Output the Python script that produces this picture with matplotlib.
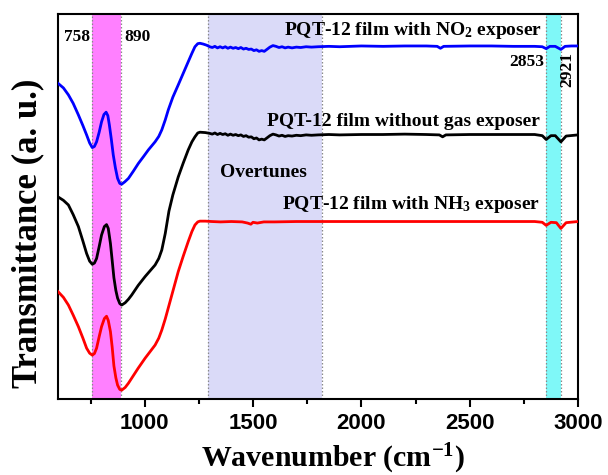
import matplotlib
matplotlib.use("Agg")
import matplotlib.pyplot as plt
import numpy as np
from matplotlib.ticker import MultipleLocator

# FTIR spectra of PQT-12 films, (wavenumber cm^-1, transmittance a.u.), stacked offsets
NO2_FILM = [
    (600, 82.0), (625, 80.8), (648, 79.0), (670, 76.8), (694, 73.8), (715, 71.0),
    (732, 68.6), (746, 66.5), (758, 65.3), (768, 65.6), (778, 66.8), (790, 69.3),
    (801, 72.0), (812, 73.9), (822, 74.5), (830, 73.6), (837, 71.2), (846, 67.5),
    (855, 63.4), (865, 60.0), (875, 57.3), (885, 56.0), (894, 55.8), (908, 56.4),
    (925, 57.3), (948, 59.2), (971, 61.2), (995, 63.0), (1017, 64.7), (1048, 66.8),
    (1065, 68.2), (1079, 69.9), (1095, 72.5), (1109, 75.1), (1130, 78.4), (1155, 81.6),
    (1178, 84.6), (1201, 87.6), (1218, 89.8), (1232, 91.5), (1245, 92.3), (1255, 92.4),
    (1270, 92.2), (1286, 91.9), (1300, 91.5), (1312, 91.3), (1324, 91.6), (1336, 91.2),
    (1348, 91.5), (1360, 91.2), (1372, 91.5), (1384, 91.1), (1396, 91.4), (1408, 91.1),
    (1420, 91.3), (1432, 91.0), (1444, 91.3), (1456, 90.9), (1468, 91.1), (1480, 90.8),
    (1492, 90.9), (1504, 90.5), (1516, 90.7), (1528, 90.3), (1540, 90.5), (1552, 90.3),
    (1564, 90.8), (1578, 91.4), (1592, 91.8), (1606, 91.6), (1620, 91.3), (1634, 91.5),
    (1648, 91.2), (1662, 91.4), (1680, 91.2), (1700, 91.4), (1720, 91.3), (1745, 91.5),
    (1770, 91.4), (1800, 91.5), (1850, 91.6), (1900, 91.5), (2000, 91.7), (2100, 91.6),
    (2200, 91.7), (2300, 91.7), (2350, 91.6), (2365, 91.1), (2380, 91.6), (2500, 91.7),
    (2600, 91.7), (2700, 91.6), (2800, 91.6), (2835, 91.5), (2853, 91.0), (2870, 91.6),
    (2895, 91.6), (2921, 90.8), (2940, 91.6), (2970, 91.7), (3000, 91.7),
]

BARE_FILM = [
    (600, 52.5), (625, 51.6), (648, 50.4), (670, 47.9), (694, 44.8), (715, 41.0),
    (732, 37.8), (746, 35.8), (758, 35.0), (768, 35.3), (778, 36.5), (790, 39.6),
    (801, 42.6), (814, 44.8), (824, 45.3), (832, 44.3), (842, 40.4), (850, 36.0),
    (858, 31.5), (867, 28.2), (875, 26.2), (885, 24.8), (894, 24.4), (910, 25.0),
    (925, 25.9), (940, 27.0), (970, 29.5), (1002, 31.8), (1025, 33.3), (1048, 34.8),
    (1065, 36.5), (1079, 38.7), (1095, 43.0), (1112, 48.8), (1130, 53.0), (1155, 57.7),
    (1178, 61.3), (1201, 64.7), (1218, 66.8), (1232, 68.1), (1245, 69.1), (1255, 69.3),
    (1280, 69.2), (1300, 69.0), (1312, 68.8), (1324, 69.1), (1336, 68.7), (1348, 69.0),
    (1360, 68.7), (1372, 68.9), (1384, 68.5), (1396, 68.8), (1408, 68.5), (1420, 68.7),
    (1432, 68.4), (1444, 68.6), (1456, 68.2), (1468, 68.4), (1480, 68.0), (1492, 68.1),
    (1504, 67.6), (1516, 67.8), (1528, 67.3), (1540, 67.5), (1552, 67.3), (1564, 67.8),
    (1578, 68.4), (1592, 68.8), (1606, 68.6), (1620, 68.3), (1634, 68.5), (1648, 68.2),
    (1662, 68.4), (1680, 68.3), (1700, 68.5), (1720, 68.4), (1745, 68.6), (1770, 68.5),
    (1800, 68.6), (1850, 68.7), (1900, 68.6), (2000, 68.7), (2100, 68.7), (2200, 68.8),
    (2300, 68.7), (2360, 68.6), (2375, 68.1), (2390, 68.6), (2500, 68.7), (2700, 68.7),
    (2800, 68.7), (2835, 68.4), (2853, 67.4), (2875, 68.4), (2895, 68.4), (2921, 66.8),
    (2945, 68.3), (3000, 68.6),
]

NH3_FILM = [
    (600, 27.9), (625, 26.4), (648, 24.4), (670, 21.8), (694, 18.8), (715, 15.8),
    (732, 13.2), (746, 11.9), (758, 11.4), (768, 11.8), (778, 13.2), (790, 16.2),
    (801, 18.8), (814, 20.9), (824, 21.5), (832, 20.4), (842, 17.5), (850, 13.5),
    (858, 8.6), (867, 5.5), (875, 3.6), (885, 2.5), (894, 2.3), (910, 3.0),
    (925, 4.1), (940, 5.4), (970, 8.0), (1002, 10.6), (1025, 12.3), (1048, 14.0),
    (1065, 15.8), (1079, 17.9), (1095, 20.8), (1117, 25.3), (1135, 29.0), (1155, 33.1),
    (1178, 37.1), (1201, 40.9), (1218, 43.5), (1232, 45.2), (1245, 46.0), (1255, 46.2),
    (1280, 46.2), (1309, 46.1), (1350, 46.0), (1400, 46.1), (1450, 46.0), (1475, 45.7),
    (1490, 45.4), (1500, 45.9), (1520, 45.7), (1550, 46.0), (1600, 46.0), (1700, 46.1),
    (1800, 46.1), (2000, 46.1), (2200, 46.1), (2400, 46.1), (2600, 46.1), (2800, 46.1),
    (2835, 45.9), (2853, 45.1), (2875, 45.9), (2900, 45.8), (2921, 44.3), (2945, 45.8),
    (3000, 46.1),
]

# highlighted bands (cm^-1)
CH_OOP_BAND = (758, 890)
OVERTONE_BAND = (1290, 1820)
CH_STRETCH_BAND = (2853, 2921)

SERIES = [
    (NO2_FILM, "#0000ff"),
    (BARE_FILM, "#000000"),
    (NH3_FILM, "#ff0000"),
]

plt.rcParams["font.family"] = ["Liberation Serif", "DejaVu Serif"]
plt.rcParams["font.weight"] = "bold"
plt.rcParams["mathtext.fontset"] = "custom"
plt.rcParams["mathtext.rm"] = "Liberation Serif:bold"
plt.rcParams["mathtext.it"] = "Liberation Serif:bold"
plt.rcParams["mathtext.bf"] = "Liberation Serif:bold"

fig = plt.figure(figsize=(6.08, 4.75), dpi=100)
ax = fig.add_axes([0.0954, 0.16, 0.8553, 0.8105])

for lo, hi, col in [(*CH_OOP_BAND, "#ff80ff"), (*OVERTONE_BAND, "#dadaf8"),
                    (*CH_STRETCH_BAND, "#7ff8f8")]:
    ax.axvspan(lo, hi, color=col, lw=0, zorder=0)
    for edge in (lo, hi):
        ax.axvline(edge, color="#8a8a8a", ls=(0, (1.2, 1.6)), lw=0.9, zorder=1)

for data, col in SERIES:
    wn, tr = np.array(data).T
    ax.plot(wn, tr, color=col, lw=2.0, zorder=3)

ax.set_xlim(600, 3000)
ax.set_ylim(0, 100)
ax.xaxis.set_major_locator(MultipleLocator(500))
ax.xaxis.set_minor_locator(MultipleLocator(250))
ax.set_yticks([])
ax.tick_params(axis="x", which="major", direction="out", length=6, width=1.5, pad=4)
ax.tick_params(axis="x", which="minor", direction="out", length=3.5, width=1.5)
for lab in ax.get_xticklabels():
    lab.set_fontfamily("Liberation Sans")
    lab.set_fontweight("bold")
    lab.set_fontsize(16)
for sp in ax.spines.values():
    sp.set_linewidth(1.5)

ann = dict(fontsize=14, fontweight="bold", zorder=4)
ax.text(2832, 94.5, r"PQT-12 film with NO$_2$ exposer", ha="right", va="baseline", **ann)
ax.text(2824, 70.9, "PQT-12 film without gas exposer", ha="right", va="baseline", **ann)
ax.text(1348, 57.6, "Overtunes", ha="left", va="baseline", **ann)
ax.text(2824, 49.3, r"PQT-12 film with NH$_3$ exposer", ha="right", va="baseline", **ann)

num = dict(fontsize=12.5, fontweight="bold", zorder=4)
ax.text(748, 93.9, "758", ha="right", va="center", **num)
ax.text(905, 93.9, "890", ha="left", va="center", **num)
ax.text(2843, 86.5, "2853", ha="right", va="baseline", **num)
ax.text(2951, 85.7, "2921", ha="center", va="center", rotation=90, **num)

fig.text(0.548, 0.016, r"Wavenumber (cm$^{-1}$)", ha="center", va="baseline",
         fontsize=21.5, fontweight="bold")
fig.text(0.046, 0.509, "Transmittance (a. u.)", ha="center", va="center",
         rotation=90, fontsize=25, fontweight="bold")

fig.savefig("out.png", dpi=100)
